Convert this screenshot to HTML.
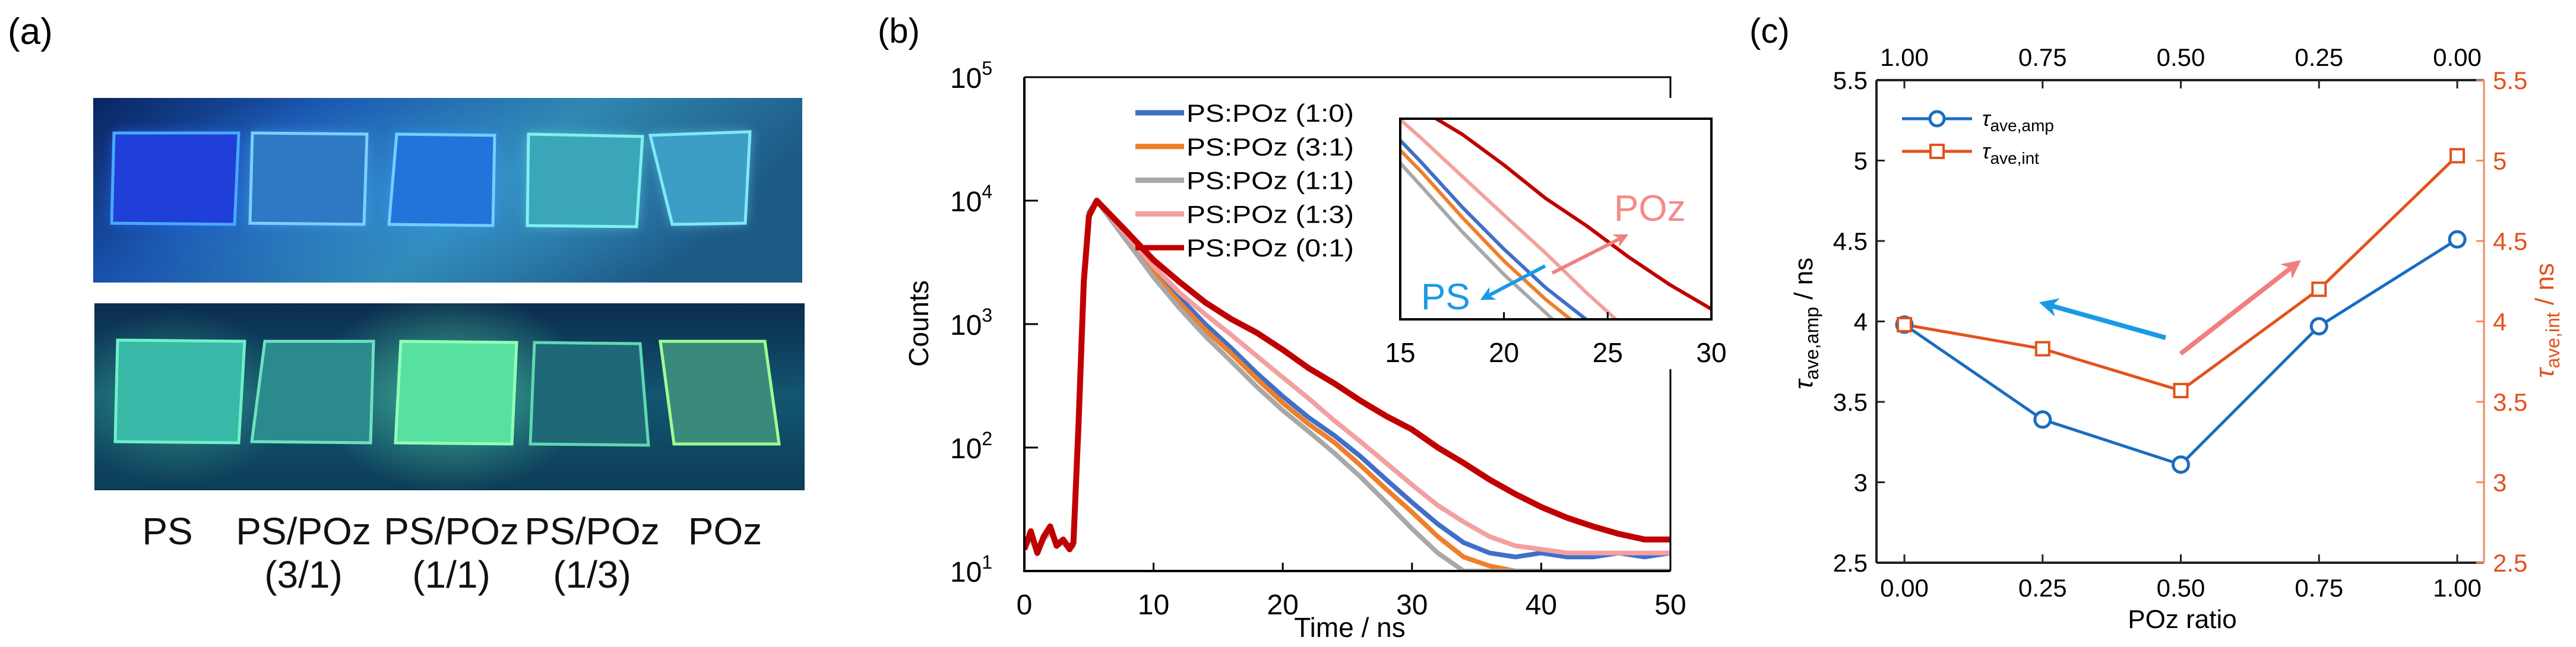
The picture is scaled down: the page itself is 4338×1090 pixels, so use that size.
<!DOCTYPE html>
<html><head><meta charset="utf-8">
<style>
html,body{margin:0;padding:0;background:#fff;}
svg{display:block;font-family:"Liberation Sans",Arial,sans-serif;}
</style></head>
<body>
<svg id="fig" width="4338" height="1090" viewBox="0 0 4338 1090" xmlns="http://www.w3.org/2000/svg">
<defs>
  <linearGradient id="bgTop" x1="0" y1="0" x2="1" y2="0.3">
    <stop offset="0" stop-color="#0a2560"/>
    <stop offset="0.3" stop-color="#1a55b0"/>
    <stop offset="0.65" stop-color="#3088b0"/>
    <stop offset="1" stop-color="#1d5a86"/>
  </linearGradient>
  <linearGradient id="bgBot" x1="0" y1="0" x2="0" y2="1">
    <stop offset="0" stop-color="#0b2c4e"/>
    <stop offset="0.5" stop-color="#125670"/>
    <stop offset="1" stop-color="#0d3c58"/>
  </linearGradient>
  <radialGradient id="glowG" cx="0.5" cy="0.5" r="0.5">
    <stop offset="0" stop-color="#5fe8a8" stop-opacity="0.6"/>
    <stop offset="1" stop-color="#5fe8a8" stop-opacity="0"/>
  </radialGradient>
  <radialGradient id="glowB" cx="0.5" cy="0.5" r="0.5">
    <stop offset="0" stop-color="#3aa0f0" stop-opacity="0.45"/>
    <stop offset="1" stop-color="#3aa0f0" stop-opacity="0"/>
  </radialGradient>
  <filter id="blur" x="-20%" y="-20%" width="140%" height="140%"><feGaussianBlur stdDeviation="10"/></filter>
  <marker id="ahBlue" viewBox="0 0 10 10" refX="8" refY="5" markerWidth="4" markerHeight="4" orient="auto"><path d="M0,0 L10,5 L0,10 L3,5 z" fill="#1a9ae6"/></marker>
  <marker id="ahPink" viewBox="0 0 10 10" refX="8" refY="5" markerWidth="4" markerHeight="4" orient="auto"><path d="M0,0 L10,5 L0,10 L3,5 z" fill="#f08080"/></marker>
  <clipPath id="clipMain"><rect x="1725" y="130" width="1088" height="832"/></clipPath>
  <clipPath id="clipInset"><rect x="2358" y="200" width="524" height="338"/></clipPath>
  <clipPath id="clipTop"><rect x="157" y="165" width="1194" height="311"/></clipPath>
  <clipPath id="clipBot"><rect x="159" y="511" width="1196" height="315"/></clipPath>
</defs>

<!-- Panel (a) -->
<g>
  <text x="13" y="74" font-size="62">(a)</text>
  <g clip-path="url(#clipTop)">
    <rect x="157" y="165" width="1194" height="311" fill="url(#bgTop)"/>
    <ellipse cx="700" cy="330" rx="560" ry="180" fill="url(#glowB)"/>
    <g filter="url(#blur)" opacity="0.7">
      <polygon points="192,224 402,224 395,378 188,376" fill="#2a60ff"/>
      <polygon points="425,224 618,226 613,378 421,376" fill="#4aa0f0"/>
      <polygon points="668,226 833,228 830,380 655,378" fill="#3a90ff"/>
      <polygon points="890,226 1082,230 1072,382 888,380" fill="#60d0d0"/>
      <polygon points="1095,228 1263,222 1255,376 1132,378" fill="#60c8e0"/>
    </g>
    <polygon points="192,224 402,224 395,378 188,376" fill="#1f3fd8" stroke="#4aa8ff" stroke-width="5"/>
    <polygon points="425,224 618,226 613,378 421,376" fill="#2f78c4" stroke="#7ad0ff" stroke-width="5"/>
    <polygon points="668,226 833,228 830,380 655,378" fill="#2274da" stroke="#70d0ff" stroke-width="5"/>
    <polygon points="890,226 1082,230 1072,382 888,380" fill="#3aa6b8" stroke="#80f0f0" stroke-width="5"/>
    <polygon points="1095,228 1263,222 1255,376 1132,378" fill="#3c9ec4" stroke="#80e8f8" stroke-width="5"/>
  </g>
  <g clip-path="url(#clipBot)">
    <rect x="159" y="511" width="1196" height="315" fill="url(#bgBot)"/>
    <ellipse cx="760" cy="660" rx="230" ry="170" fill="url(#glowG)"/>
    <ellipse cx="300" cy="670" rx="190" ry="150" fill="url(#glowG)" opacity="0.6"/>
    <polygon points="198,573 412,575 402,746 194,744" fill="#3ab8a8" stroke="#70f0c8" stroke-width="5"/>
    <polygon points="446,575 629,575 624,746 424,744" fill="#2a8a8c" stroke="#70e0c0" stroke-width="5"/>
    <polygon points="675,575 870,577 862,748 666,746" fill="#58e0a0" stroke="#90ffb8" stroke-width="5"/>
    <polygon points="900,577 1078,579 1092,750 893,748" fill="#1e6878" stroke="#60d8b0" stroke-width="5"/>
    <polygon points="1112,575 1288,575 1312,748 1135,748" fill="#3a8a7c" stroke="#a0ff90" stroke-width="5"/>
  </g>
  <g font-size="64" text-anchor="middle" fill="#111">
    <text x="282" y="917">PS</text>
    <text x="511" y="917">PS/POz</text>
    <text x="511" y="990">(3/1)</text>
    <text x="760" y="917">PS/POz</text>
    <text x="760" y="990">(1/1)</text>
    <text x="997" y="917">PS/POz</text>
    <text x="997" y="990">(1/3)</text>
    <text x="1221" y="917">POz</text>
  </g>
</g>

<!-- Panel (b) -->
<g id="panelB">
  <text x="1478" y="72" font-size="58">(b)</text>
  <g id="bCurves" clip-path="url(#clipMain)"></g>
  <rect x="2358" y="200" width="524" height="338" fill="#fff"/>
  <g id="bInset" clip-path="url(#clipInset)"></g>
  <g id="bAxes"></g>
  <text x="0" y="0" font-size="46" text-anchor="middle" transform="translate(1563,545) rotate(-90)">Counts</text>
  <text x="2273" y="1073" font-size="46" text-anchor="middle">Time / ns</text>
  <text x="2718" y="372" font-size="62" fill="#f58a88">POz</text>
  <text x="2393" y="521" font-size="62" fill="#1a9ae6">PS</text>
  <line x1="2602" y1="448" x2="2497" y2="503" stroke="#1a9ae6" stroke-width="6" marker-end="url(#ahBlue)"/>
  <line x1="2614" y1="460" x2="2738" y2="397" stroke="#f08080" stroke-width="6" marker-end="url(#ahPink)"/>
  <g id="bLegend"></g>
</g>

<!-- Panel (c) -->
<g id="panelC">
  <text x="2946" y="72" font-size="58">(c)</text>
  <g id="cAxes"></g>
  <g id="cMarks"></g>
  <text x="3675" y="1058" font-size="44" text-anchor="middle">POz ratio</text>
  <g transform="translate(3052,545) rotate(-90)">
    <text x="0" y="0" font-size="44" text-anchor="middle"><tspan font-style="italic">τ</tspan><tspan font-size="32" dy="10">ave,amp</tspan><tspan dy="-10">  /  ns</tspan></text>
  </g>
  <g transform="translate(4300,540) rotate(-90)">
    <text x="0" y="0" font-size="44" text-anchor="middle" fill="#e2521c"><tspan font-style="italic">τ</tspan><tspan font-size="32" dy="10">ave,int</tspan><tspan dy="-10">  /  ns</tspan></text>
  </g>
  <line x1="3647" y1="569" x2="3440" y2="511" stroke="#1a9ae6" stroke-width="8" marker-end="url(#ahBlue)"/>
  <line x1="3672" y1="596" x2="3870" y2="442" stroke="#f08080" stroke-width="8" marker-end="url(#ahPink)"/>
  <g>
    <line x1="3203" y1="200" x2="3321" y2="200" stroke="#1a6cc0" stroke-width="5"/>
    <circle cx="3262" cy="200" r="12" fill="#fff" stroke="#1a6cc0" stroke-width="5"/>
    <text x="3338" y="212" font-size="36" font-style="italic">τ<tspan font-size="28" font-style="normal" dy="9">ave,amp</tspan></text>
    <line x1="3203" y1="255" x2="3321" y2="255" stroke="#e2521c" stroke-width="5"/>
    <rect x="3251" y="244" width="22" height="22" fill="#fff" stroke="#e2521c" stroke-width="4"/>
    <text x="3338" y="267" font-size="36" font-style="italic">τ<tspan font-size="28" font-style="normal" dy="9">ave,int</tspan></text>
  </g>
</g>

<script>
// ---------- Panel (b) data ----------
const tTimes = [0,0.5,1,1.5,2,2.5,3,3.5,3.8,4.2,4.6,5,5.6,8,10,12,14,16,18,20,22,24,26,28,30,32,34,36,38,40,42,44,46,48,50];
const sBlue   = [15,20,14,19,22,16,18,15,17,200,2500,8000,10000,5000,2800,1650,1000,640,400,260,175,125,85,55,36,24,17,14,13,14,13,13,14,13,14];
const sOrange = [15,19,14,18,21,16,17,15,16,180,2300,7600,10000,4800,2600,1500,900,580,360,230,155,110,72,46,30,19,13,11,10,10,10,10,10,10,10];
const sGray   = [15,19,14,18,21,16,17,15,16,150,2100,7400,10000,4600,2400,1350,800,500,310,200,135,90,58,36,22,14,10,10,10,10,10,10,10,10,10];
const sPink   = [15,20,15,19,22,17,18,16,17,170,2400,7800,10000,5100,2950,1800,1200,820,550,370,250,165,112,75,50,34,25,19,16,15,14,14,14,14,14];
const sRed    = [15,21,14,19,23,16,18,15,17,160,2200,7500,10000,5500,3300,2200,1500,1100,850,620,440,330,240,180,140,100,75,55,42,33,27,23,20,18,18];
const seriesNames = ["PS:POz (1:0)","PS:POz (3:1)","PS:POz (1:1)","PS:POz (1:3)","PS:POz (0:1)"];
const seriesColors = ["#3f6fc8","#ef7f2a","#a8a8a8","#f4a0a0","#c00000"];
const seriesData = [sBlue,sOrange,sGray,sPink,sRed];
const xTicksB = [0,10,20,30,40,50];
const yExpB = [1,2,3,4,5];
const insetTicks = [15,20,25,30];

// ---------- Panel (c) data ----------
const pozRatio = [0,0.25,0.5,0.75,1.0];
const tauAmp = [3.98,3.39,3.11,3.97,4.51];
const tauInt = [3.98,3.83,3.57,4.20,5.03];
const xTicksC = ["0.00","0.25","0.50","0.75","1.00"];
const xTicksTop = ["1.00","0.75","0.50","0.25","0.00"];
const yTicksC = ["2.5","3","3.5","4","4.5","5","5.5"];

const NS = "http://www.w3.org/2000/svg";
function mk(tag, attrs, parent){ const e=document.createElementNS(NS,tag); for(const k in attrs) e.setAttribute(k,attrs[k]); parent.appendChild(e); return e; }

const bx = t => 1725 + (t/50)*1088;
const by = v => 962 - (Math.log10(v)-1)*208;
const ix = t => 2358 + ((t-15)/15)*524;
const iy = v => 200 + (3.0-Math.log10(v))/(0.9)*338;

const bCurves = document.getElementById('bCurves');
const bInset = document.getElementById('bInset');
seriesData.forEach((s,k)=>{
  const pts = s.map((v,i)=>bx(tTimes[i]).toFixed(1)+","+by(Math.max(v,8)).toFixed(1)).join(" ");
  const pl = mk('polyline',{points:pts,fill:'none',stroke:seriesColors[k],'stroke-width':(k===4?10:8),'stroke-linejoin':'round'},bCurves);
  
  
  const ipts = s.map((v,i)=>ix(tTimes[i]).toFixed(1)+","+iy(Math.max(v,8)).toFixed(1)).join(" ");
  const ipl = mk('polyline',{points:ipts,fill:'none',stroke:seriesColors[k],'stroke-width':6,'stroke-linejoin':'round'},bInset);
  
  
});

const bAxes = document.getElementById('bAxes');
mk('polyline',{points:"1725,130 1725,962 2813,962",fill:'none',stroke:'#000','stroke-width':4},bAxes);
mk('polyline',{points:"1725,130 2813,130 2813,165",fill:'none',stroke:'#000','stroke-width':3},bAxes);
mk('line',{x1:2813,y1:622,x2:2813,y2:962,stroke:'#000','stroke-width':3},bAxes);
xTicksB.forEach(t=>{
  if(t>0 && t<50) mk('line',{x1:bx(t),y1:962,x2:bx(t),y2:948,stroke:'#000','stroke-width':3},bAxes);
  const tx = mk('text',{x:bx(t),y:1035,'font-size':48,'text-anchor':'middle'},bAxes);
  tx.textContent = t;
  
  
});
yExpB.forEach(e=>{
  const y = by(Math.pow(10,e));
  if(e>1 && e<5) mk('line',{x1:1725,y1:y,x2:1748,y2:y,stroke:'#000','stroke-width':3},bAxes);
  const tx = mk('text',{x:1600,y:y+18,'font-size':48},bAxes);
  tx.textContent = '10';
  
  
  const sp = mk('tspan',{'font-size':32,dy:-22},tx); sp.textContent = e;
});
mk('rect',{x:2358,y:200,width:524,height:338,fill:'none',stroke:'#000','stroke-width':4},bAxes);
insetTicks.forEach(t=>{
  if(t>15 && t<30) mk('line',{x1:ix(t),y1:538,x2:ix(t),y2:526,stroke:'#000','stroke-width':3},bAxes);
  const tx = mk('text',{x:ix(t),y:610,'font-size':46,'text-anchor':'middle'},bAxes);
  tx.textContent = t;
  
  
});
const bLegend = document.getElementById('bLegend');
seriesNames.forEach((n,k)=>{
  const y = 190 + k*56.8;
  const ln = mk('line',{x1:1912,y1:y,x2:1994,y2:y,stroke:seriesColors[k],'stroke-width':9},bLegend);
  
  
  const tx = mk('text',{x:1998,y:y+15,'font-size':42,textLength:282,lengthAdjust:'spacingAndGlyphs'},bLegend);
  tx.textContent = n;
  
  
});

const cx = r => 3207 + r*931;
const cy = v => 948 - (v-2.5)/3*813;
const cAxes = document.getElementById('cAxes');
mk('line',{x1:3160,y1:135,x2:3160,y2:948,stroke:'#222','stroke-width':4},cAxes);
mk('line',{x1:3160,y1:948,x2:4183,y2:948,stroke:'#222','stroke-width':4},cAxes);
mk('line',{x1:3160,y1:135,x2:4183,y2:135,stroke:'#222','stroke-width':4},cAxes);
mk('line',{x1:4183,y1:135,x2:4183,y2:948,stroke:'#f08a60','stroke-width':3},cAxes);
xTicksC.forEach((lab,i)=>{
  const x = cx(pozRatio[i]);
  mk('line',{x1:x,y1:948,x2:x,y2:934,stroke:'#222','stroke-width':3},cAxes);
  mk('line',{x1:x,y1:135,x2:x,y2:149,stroke:'#222','stroke-width':3},cAxes);
  const tb = mk('text',{x:x,y:1005,'font-size':42,'text-anchor':'middle'},cAxes);
  tb.textContent = lab;
  
  
  const tt = mk('text',{x:x,y:111,'font-size':42,'text-anchor':'middle'},cAxes);
  tt.textContent = xTicksTop[i];
  
  
});
yTicksC.forEach((lab,i)=>{
  const y = cy(parseFloat(lab));
  mk('line',{x1:3160,y1:y,x2:3174,y2:y,stroke:'#222','stroke-width':3},cAxes);
  mk('line',{x1:4183,y1:y,x2:4170,y2:y,stroke:'#f08a60','stroke-width':3},cAxes);
  const tl = mk('text',{x:3145,y:y+15,'font-size':42,'text-anchor':'end'},cAxes);
  tl.textContent = lab;
  
  
  const tr = mk('text',{x:4198,y:y+15,'font-size':42,fill:'#e2521c'},cAxes);
  tr.textContent = lab;
  
  
});
const cMarks = document.getElementById('cMarks');
const pInt = mk('polyline',{points:pozRatio.map((r,i)=>cx(r)+","+cy(tauInt[i])).join(" "),fill:'none',stroke:'#e2521c','stroke-width':5},cMarks);


const pAmp = mk('polyline',{points:pozRatio.map((r,i)=>cx(r)+","+cy(tauAmp[i])).join(" "),fill:'none',stroke:'#1a6cc0','stroke-width':5},cMarks);


pozRatio.forEach((r,i)=>{
  const c = mk('circle',{cx:cx(r),cy:cy(tauAmp[i]),r:13,fill:'#fff',stroke:'#1a6cc0','stroke-width':5},cMarks);
  
  
  const s = mk('rect',{x:cx(r)-11,y:cy(tauInt[i])-11,width:22,height:22,fill:'#fff',stroke:'#e2521c','stroke-width':4},cMarks);
  
  
});
</script>
</svg>
</body></html>
